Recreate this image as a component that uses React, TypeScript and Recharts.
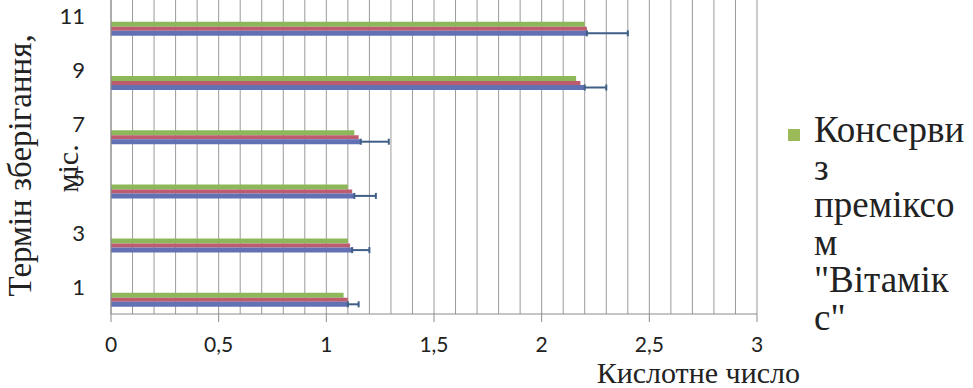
import { Bar, BarChart, CartesianGrid, ErrorBar, XAxis, YAxis } from "recharts";

// storage term, months
const months = ["1", "3", "5", "7", "9", "11"];
// three overlapping series, top to bottom within each group
const greenSeries = [1.08, 1.1, 1.1, 1.13, 2.16, 2.2];
const redSeries = [1.1, 1.11, 1.12, 1.15, 2.18, 2.21];
const blueSeries = [1.1, 1.12, 1.13, 1.16, 2.2, 2.21];
const blueError = [0.05, 0.08, 0.1, 0.13, 0.1, 0.19];
// empty slot above the visible bars (the Excel group holds more series than are shown)
const emptySlot = [0, 0, 0, 0, 0, 0];

const gridTicks = [
  0, 0.1, 0.2, 0.3, 0.4, 0.5, 0.6, 0.7, 0.8, 0.9, 1, 1.1, 1.2, 1.3, 1.4, 1.5, 1.6, 1.7, 1.8, 1.9, 2, 2.1, 2.2,
  2.3, 2.4, 2.5, 2.6, 2.7, 2.8, 2.9, 3
];
const labelTicks = [0, 0.5, 1, 1.5, 2, 2.5, 3];

const legendLines = ["Консерви", "з", "преміксо", "м", "\"Вітамік", "с\""];

const data = months.map((m, i) => ({
  month: m,
  empty: emptySlot[i],
  green: greenSeries[i],
  red: redSeries[i],
  blue: blueSeries[i],
  blueErr: [0, blueError[i]]
}));

const numFont = "Lato, 'Open Sans', sans-serif";
const serif = "Liberation Serif";

function XTick(props: any) {
  const { x, y, payload } = props;
  const v = payload.value as number;
  if (!labelTicks.some((t) => Math.abs(t - v) < 1e-6)) {
    return <g />;
  }
  return (
    <g>
      <line x1={x} x2={x} y1={y} y2={y + 8} stroke="#8c8c8c" />
      <text x={x} y={y + 23} dy="0.71em" textAnchor="middle" fontFamily={numFont} fontSize={21} fill="#222">
        {String(v).replace(".", ",")}
      </text>
    </g>
  );
}

function YTitle(props: any) {
  const vb = props.viewBox;
  const cy = vb.y + vb.height / 2 + 14;
  const cy2 = vb.y + vb.height / 2 + 17;
  return (
    <g fontFamily={serif} fill="#222">
      <text x={31} y={cy} fontSize={33} textAnchor="middle" transform={`rotate(-90, 31, ${cy})`}>
        Термін зберігання,
      </text>
      <text x={78} y={cy2} fontSize={30} textAnchor="middle" transform={`rotate(-90, 78, ${cy2})`}>
        міс.
      </text>
    </g>
  );
}

function XTitle(props: any) {
  const vb = props.viewBox;
  return (
    <text x={vb.x + vb.width + 43} y={vb.y + 69} textAnchor="end" fontFamily={serif} fontSize={30} fill="#222">
      Кислотне число
    </text>
  );
}

export default function App() {
  return (
    <div style={{ position: "absolute", left: 0, top: 0, width: 973, height: 388, overflow: "hidden", background: "#fff" }}>
      <div style={{ position: "absolute", left: 0, top: -30 }}>
        <BarChart
          width={973}
          height={418}
          data={data}
          layout="vertical"
          barGap={0}
          margin={{ top: 18.8, right: 216, bottom: 0, left: 0 }}
        >
          <CartesianGrid horizontal={false} stroke="#9a9a9a" />
          <XAxis
            type="number"
            domain={[0, 3]}
            ticks={gridTicks}
            interval={0}
            height={74}
            tickSize={0}
            tickMargin={0}
            tickLine={false}
            tick={<XTick />}
            axisLine={{ stroke: "#8c8c8c" }}
            label={<XTitle />}
          />
          <YAxis
            type="category"
            dataKey="month"
            reversed
            width={111}
            tickSize={0}
            tickMargin={26}
            tickLine={false}
            axisLine={{ stroke: "#8c8c8c" }}
            tick={{ fontFamily: numFont, fontSize: 22, fill: "#222" }}
            label={<YTitle />}
          />
          <Bar dataKey="empty" barSize={25} fill="transparent" isAnimationActive={false} />
          <Bar dataKey="green" barSize={5} fill="#8cb85a" isAnimationActive={false} />
          <Bar dataKey="red" barSize={4} fill="#bd5c6e" isAnimationActive={false} />
          <Bar dataKey="blue" barSize={5} fill="#6270b4" isAnimationActive={false}>
            <ErrorBar dataKey="blueErr" direction="x" width={3} stroke="#3f5f86" strokeWidth={2} />
          </Bar>
        </BarChart>
      </div>
      <div style={{ position: "absolute", left: 788, top: 129, width: 12, height: 12, background: "#9bbb59" }} />
      <div
        style={{
          position: "absolute",
          left: 814,
          top: 111,
          fontFamily: serif,
          fontSize: 37,
          lineHeight: "37.5px",
          color: "#222"
        }}
      >
        {legendLines.map((l) => (
          <div key={l}>{l}</div>
        ))}
      </div>
    </div>
  );
}
